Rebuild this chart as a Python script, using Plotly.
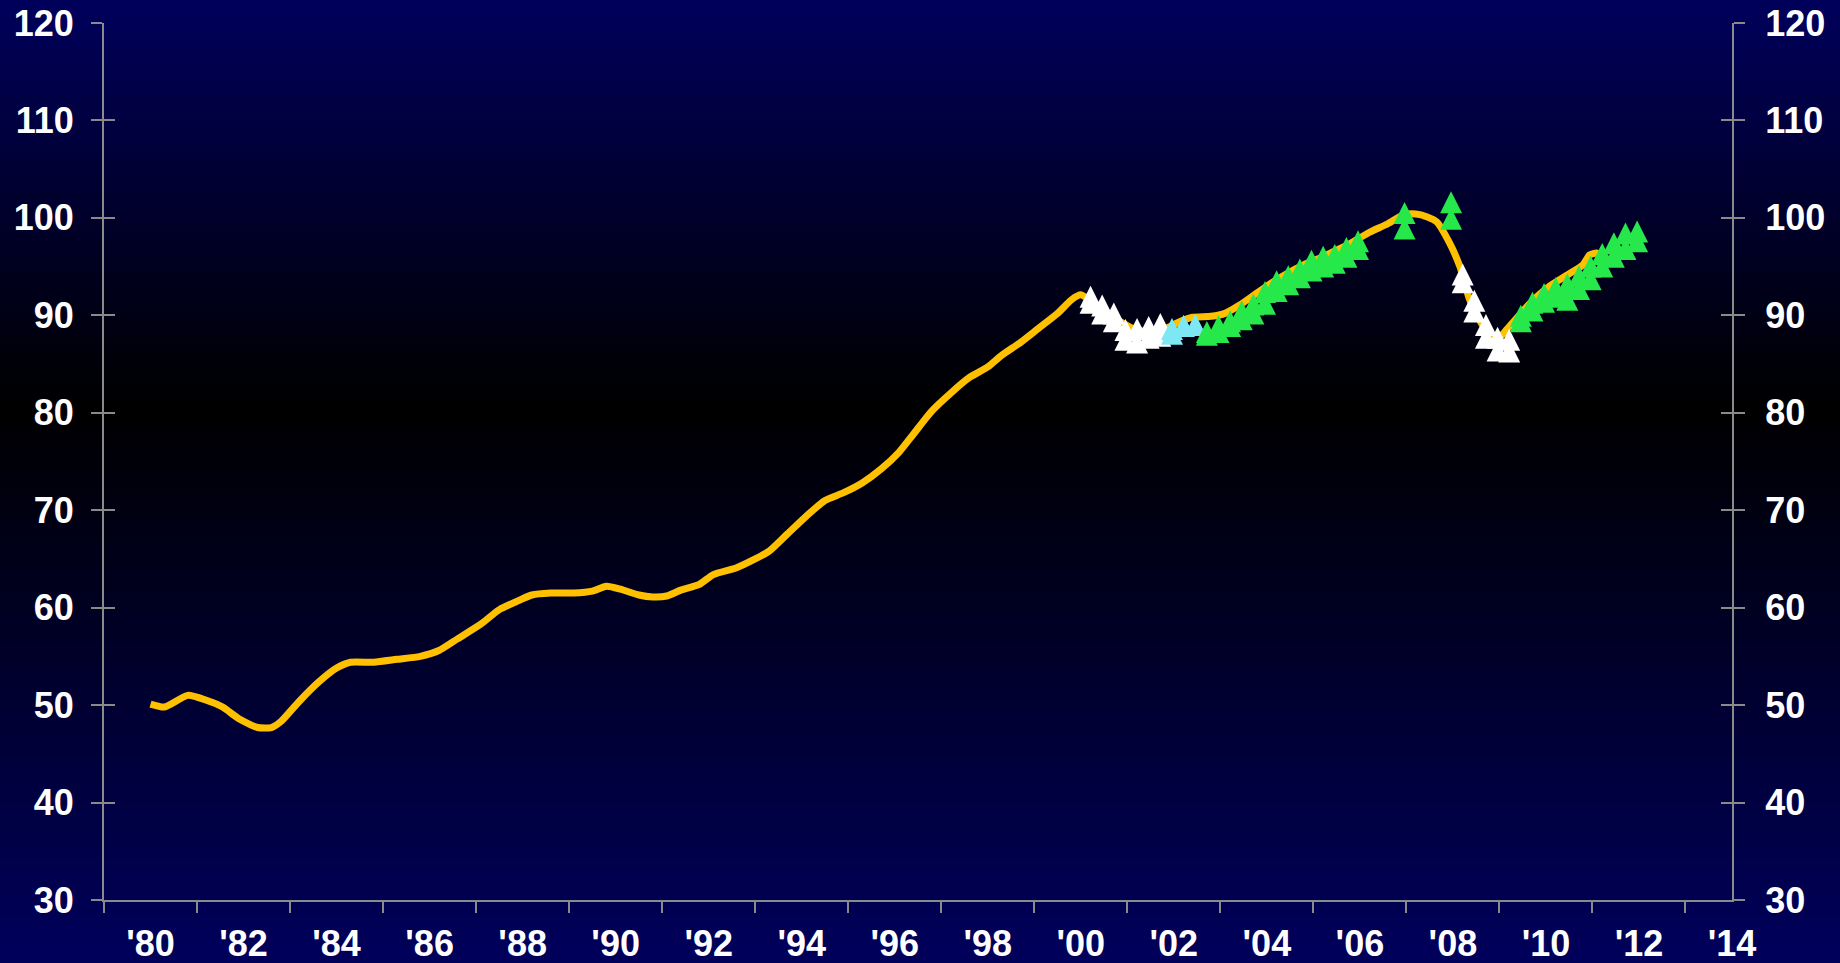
import plotly.graph_objects as go

# ---- data ----
line_years = [1980.0, 1980.3, 1980.8, 1981.2, 1981.55, 1981.9, 1982.3, 1982.6, 1982.8, 1983.2,
              1983.6, 1984.0, 1984.3, 1984.8, 1985.3, 1985.8, 1986.2, 1986.6, 1987.1, 1987.5,
              1987.9, 1988.2, 1988.6, 1989.1, 1989.5, 1989.8, 1990.1, 1990.5, 1990.8, 1991.1,
              1991.4, 1991.8, 1992.1, 1992.6, 1993.0, 1993.3, 1993.7, 1994.1, 1994.5, 1994.9,
              1995.3, 1995.7, 1996.1, 1996.4, 1996.8, 1997.2, 1997.6, 1998.0, 1998.3, 1998.7,
              1999.1, 1999.5, 1999.8, 2000.0, 2000.3, 2000.6, 2000.9, 2001.2, 2001.5, 2001.8,
              2002.1, 2002.4, 2002.8, 2003.1, 2003.4, 2003.7, 2004.0, 2004.4, 2004.8, 2005.2,
              2005.5, 2005.8, 2006.2, 2006.6, 2006.93, 2007.2, 2007.45, 2007.65, 2007.93, 2008.15,
              2008.36, 2008.65, 2008.94, 2009.22, 2009.65, 2010.08, 2010.51, 2010.8, 2010.94, 2011.09,
              2011.16]
line_values = [50.1, 49.8, 51.0, 50.5, 49.8, 48.6, 47.7, 47.7, 48.3, 50.4,
               52.3, 53.8, 54.4, 54.4, 54.7, 55.0, 55.6, 56.8, 58.3, 59.8,
               60.7, 61.3, 61.5, 61.5, 61.7, 62.2, 61.9, 61.3, 61.1, 61.2,
               61.8, 62.4, 63.4, 64.1, 65.0, 65.8, 67.6, 69.4, 71.0, 71.8,
               72.8, 74.2, 76.0, 77.8, 80.2, 82.0, 83.6, 84.7, 85.9, 87.2,
               88.7, 90.2, 91.6, 92.1, 91.2, 90.2, 89.2, 88.5, 88.3, 88.6,
               89.3, 89.8, 89.9, 90.2, 91.0, 92.0, 93.0, 94.2, 95.2, 96.0,
               96.7, 97.4, 98.5, 99.4, 100.3, 100.4, 100.1, 99.6, 97.4, 95.0,
               91.6, 88.9, 87.5, 88.9, 91.2, 93.0, 94.3, 95.2, 96.2, 96.4,
               96.2]

white_x = [2000.21, 2000.46, 2000.71, 2000.96, 2001.21, 2001.46, 2001.71,
           2008.21, 2008.46, 2008.71, 2008.96, 2009.21]
white_hi = [91.9, 91.0, 90.2, 88.5, 88.6, 88.8, 89.1,
            94.2, 91.5, 89.0, 87.7, 87.5]
white_lo = [91.3, 90.2, 89.4, 87.5, 87.2, 87.7, 87.9,
            93.4, 90.4, 87.7, 86.4, 86.3]

cyan_x = [2001.96, 2002.21, 2002.46]
cyan_hi = [88.6, 88.9, 89.0]
cyan_lo = [88.1, 88.9, 89.0]

green_x = [2002.71, 2002.96, 2003.21, 2003.46, 2003.71, 2003.96, 2004.21, 2004.46, 2004.71,
           2004.96, 2005.21, 2005.46, 2005.71, 2005.96, 2006.96, 2007.96,
           2009.46, 2009.71, 2009.96, 2010.21, 2010.46, 2010.71, 2010.96, 2011.21, 2011.46,
           2011.71, 2011.96]
green_hi = [88.3, 88.9, 89.4, 90.4, 91.1, 92.4, 93.5, 94.0, 94.7,
            95.6, 96.0, 96.2, 96.9, 97.6, 100.5, 101.6,
            89.95, 91.3, 92.2, 92.8, 93.2, 94.0, 95.0, 96.3, 97.4,
            98.4, 98.6]
green_lo = [88.0, 88.3, 88.9, 89.6, 90.2, 91.2, 92.5, 93.2, 93.9,
            94.6, 95.0, 95.4, 96.0, 96.8, 98.9, 99.9,
            89.4, 90.5, 91.4, 91.9, 91.6, 92.7, 93.7, 95.0, 96.0,
            96.8, 97.6]

y_ticks = list(range(30, 121, 10))
x_label_years = list(range(1980, 2015, 2))
x_tick_years = list(range(1979, 2014, 2))
x_labels = ["'" + str(y)[2:] for y in x_label_years]

# ---- style ----
W, H = 1840, 963
M_L, M_R, M_T, M_B = 104, 108, 23, 63
NAVY = (0, 0, 92)
AXIS_COLOR = "#8a8a8a"
LINE_COLOR = "#FFC000"
MARKER_SIZE = 22
TICK_FONT = dict(family="Liberation Sans, Arial", size=36, color="white", weight="bold")

fig = go.Figure()

fig.add_trace(go.Scatter(
    x=line_years, y=line_values, mode="lines",
    line=dict(color=LINE_COLOR, width=7, shape="spline", smoothing=0.6),
    hoverinfo="skip",
))

# arrow-up markers have their apex on the point; a shifted overlay axis centres them
for xs, his, los, col in [(white_x, white_hi, white_lo, "#FFFFFF"),
                          (cyan_x, cyan_hi, cyan_lo, "#7DE8F4"),
                          (green_x, green_hi, green_lo, "#26E84A")]:
    for ys in (his, los):
        fig.add_trace(go.Scatter(
            x=xs, y=ys, mode="markers", yaxis="y5",
            marker=dict(symbol="arrow-up", size=MARKER_SIZE, color=col,
                        line=dict(width=0)),
            hoverinfo="skip",
        ))

# background gradient: navy -> black (around the 80 line) -> navy
plot_h = H - M_T - M_B
mid_px = 405
n_strips = 120
shapes = []
for i in range(n_strips):
    p0 = H * i / n_strips
    p1 = H * (i + 1) / n_strips
    pm = (p0 + p1) / 2
    if pm < mid_px:
        t = (mid_px - pm) / mid_px
    else:
        t = (pm - mid_px) / (H - mid_px)
    col = "rgb(%d,%d,%d)" % tuple(round(c * t) for c in NAVY)
    shapes.append(dict(
        type="rect", xref="paper", yref="paper", layer="below",
        x0=-0.2, x1=1.2,
        y0=(H - M_B - p1 - 0.6) / plot_h, y1=(H - M_B - p0 + 0.6) / plot_h,
        fillcolor=col, line=dict(width=0),
    ))

y_common = dict(range=[30, 120], tickvals=y_ticks, tickcolor=AXIS_COLOR, tickwidth=2,
                ticklen=11, showgrid=False, zeroline=False, fixedrange=True,
                automargin=False)
shift = (MARKER_SIZE / 2) * 90 / plot_h

fig.update_layout(
    width=W, height=H,
    margin=dict(l=M_L, r=M_R, t=M_T, b=M_B),
    paper_bgcolor="rgb(0,0,92)",
    plot_bgcolor="rgba(0,0,0,0)",
    showlegend=False,
    shapes=shapes,
    xaxis=dict(
        range=[1979, 2014], tickvals=x_label_years, ticktext=x_labels, ticks="",
        tickfont=TICK_FONT, ticklabelstandoff=11, automargin=False,
        showline=True, linecolor=AXIS_COLOR, linewidth=2,
        minor=dict(tickvals=x_tick_years, ticks="outside", ticklen=11,
                   tickcolor=AXIS_COLOR, tickwidth=2, showgrid=False),
        showgrid=False, zeroline=False, fixedrange=True,
    ),
    yaxis=dict(**y_common, side="left", ticks="outside", showline=True,
               linecolor=AXIS_COLOR, linewidth=2, tickfont=TICK_FONT,
               ticklabelstandoff=10),
    yaxis2=dict(**y_common, overlaying="y", side="right", ticks="outside", showline=True,
                linecolor=AXIS_COLOR, linewidth=2, tickfont=TICK_FONT,
                ticklabelstandoff=13),
    yaxis3=dict(**y_common, overlaying="y", side="left", ticks="inside",
                showticklabels=False, showline=False),
    yaxis4=dict(**y_common, overlaying="y", side="right", ticks="inside",
                showticklabels=False, showline=False),
    yaxis5=dict(range=[30 - shift, 120 - shift], overlaying="y", visible=False,
                fixedrange=True, automargin=False),
)

# invisible traces so the extra y axes are drawn
for ax in ("y2", "y3", "y4"):
    fig.add_trace(go.Scatter(x=[None], y=[None], yaxis=ax, hoverinfo="skip"))

fig.write_html("out.html", config={"displayModeBar": False},
               post_script="document.body.style.margin='0';")
